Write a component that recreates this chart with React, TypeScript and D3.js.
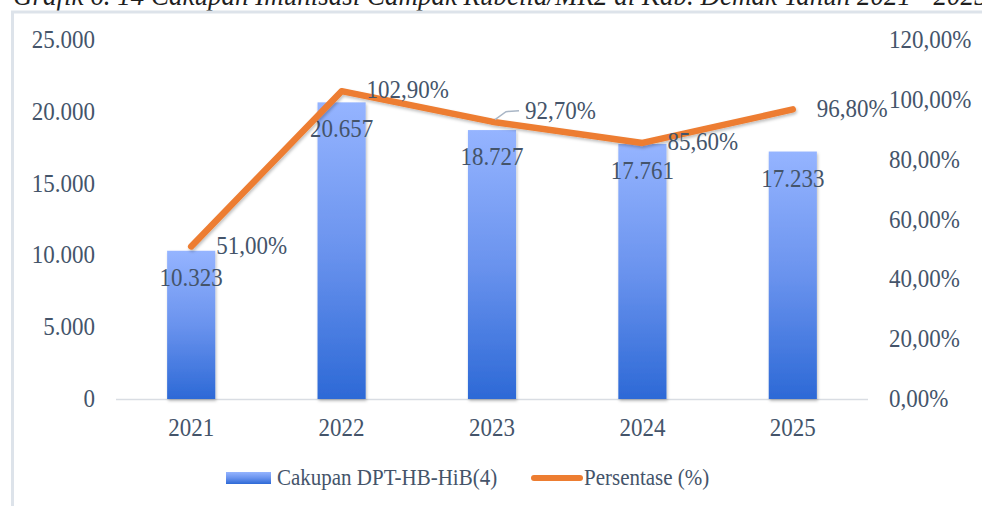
import React, { useEffect, useRef } from "react";
import * as d3 from "d3";

const years = ["2021", "2022", "2023", "2024", "2025"];
const cakupan = [10323, 20657, 18727, 17761, 17233];
const persen = [51.0, 102.9, 92.7, 85.6, 96.8];
const leftTicks = [0, 5000, 10000, 15000, 20000, 25000];
const rightTicks = [0, 20, 40, 60, 80, 100, 120];

const title = "Grafik 6. 14 Cakupan Imunisasi Campak Rubella/MR2 di Kab. Demak Tahun 2021 - 2025";
const barName = "Cakupan DPT-HB-HiB(4)";
const lineName = "Persentase (%)";

const W = 982, H = 506;
const font = "'Liberation Serif', 'Times New Roman', serif";
const textColor = "#44546a";
const stretch = 1.1; // text in the picture is a bit taller than wide

const fmtNum = (v: number) => d3.format(",")(v).replace(/,/g, ".");
const fmtPct = (v: number) => v.toFixed(2).replace(".", ",") + "%";
const at = (x: number, y: number) => `translate(${x},${y}) scale(1,${stretch})`;

export default function App() {
  const ref = useRef<SVGSVGElement>(null);

  useEffect(() => {
    const svg = d3.select(ref.current);
    svg.selectAll("*").remove();

    const plot = { left: 116, right: 868, top: 40, bottom: 399 };

    const x = d3.scaleBand().domain(years).range([plot.left, plot.right]).paddingInner(0.68).paddingOuter(0.34);
    const yL = d3.scaleLinear().domain([0, 25000]).range([plot.bottom, plot.top]);
    const yR = d3.scaleLinear().domain([0, 120]).range([plot.bottom, plot.top]);
    const cx = (d: string) => (x(d) as number) + x.bandwidth() / 2;

    const defs = svg.append("defs");
    const grad = defs.append("linearGradient").attr("id", "barGrad").attr("x1", 0).attr("y1", 0).attr("x2", 0).attr("y2", 1);
    grad.append("stop").attr("offset", "0%").attr("stop-color", "#95b4ff");
    grad.append("stop").attr("offset", "50%").attr("stop-color", "#6a93ee");
    grad.append("stop").attr("offset", "100%").attr("stop-color", "#2d69d6");

    const shadow = defs.append("filter").attr("id", "shadow").attr("x", "-20%").attr("y", "-20%").attr("width", "140%").attr("height", "140%");
    shadow.append("feDropShadow").attr("dx", 1).attr("dy", 2).attr("stdDeviation", 1.5).attr("flood-color", "#000").attr("flood-opacity", 0.25);

    // title (cut off at top, as in the source)
    svg.append("text").attr("transform", at(13, 5)).attr("font-family", font).attr("font-style", "italic")
      .attr("font-size", 27).attr("fill", "#1f1f1f").text(title);

    // frame
    svg.append("rect").attr("x", 12.5).attr("y", 12).attr("width", W + 20).attr("height", H + 20)
      .attr("fill", "none").attr("stroke", "#dde3ea").attr("stroke-width", 3);

    // baseline
    svg.append("line").attr("x1", plot.left).attr("x2", plot.right).attr("y1", plot.bottom + 0.5).attr("y2", plot.bottom + 0.5)
      .attr("stroke", "#d9dde3").attr("stroke-width", 1.5);

    const txt = (g: any) => g.attr("font-family", font).attr("font-size", 23).attr("fill", textColor);

    // left axis
    svg.append("g").selectAll("text").data(leftTicks).join("text")
      .attr("transform", d => at(95, yL(d) + 8)).attr("text-anchor", "end")
      .call(txt).text(d => fmtNum(d));

    // right axis
    svg.append("g").selectAll("text").data(rightTicks).join("text")
      .attr("transform", d => at(889, yR(d) + 8)).attr("text-anchor", "start")
      .call(txt).text(d => fmtPct(d));

    // x labels
    svg.append("g").selectAll("text").data(years).join("text")
      .attr("transform", d => at(cx(d), 436)).attr("text-anchor", "middle")
      .call(txt).text(d => d);

    // bars
    svg.append("g").selectAll("rect").data(cakupan).join("rect")
      .attr("x", (d, i) => x(years[i]) as number).attr("width", x.bandwidth())
      .attr("y", d => yL(d)).attr("height", d => plot.bottom - yL(d))
      .attr("fill", "url(#barGrad)").attr("filter", "url(#shadow)");

    // bar labels
    svg.append("g").selectAll("text").data(cakupan).join("text")
      .attr("transform", (d, i) => at(cx(years[i]), yL(d) + 35)).attr("text-anchor", "middle")
      .call(txt).text(d => fmtNum(d));

    // line
    const line = d3.line<number>().x((d, i) => cx(years[i])).y(d => yR(d));
    svg.append("path").datum(persen).attr("d", line).attr("fill", "none")
      .attr("stroke", "#ed7d31").attr("stroke-width", 6.5).attr("stroke-linecap", "round").attr("stroke-linejoin", "round")
      .attr("filter", "url(#shadow)");

    // leader line for 2023 label
    const lx = cx(years[2]), ly = yR(persen[2]);
    svg.append("path").attr("d", `M${lx + 3},${ly - 2}L${lx + 14},${ly - 10}L${lx + 27},${ly - 11}`)
      .attr("fill", "none").attr("stroke", "#a9b6c6").attr("stroke-width", 1.5);

    // line labels
    const offs = [[25, 8], [25, 7], [33, -3], [25, 7], [24, 8]];
    svg.append("g").selectAll("text").data(persen).join("text")
      .attr("transform", (d, i) => at(cx(years[i]) + offs[i][0], yR(d) + offs[i][1]))
      .call(txt).text(d => fmtPct(d));

    // legend
    const lg = svg.append("g");
    lg.append("rect").attr("x", 226).attr("y", 472).attr("width", 45).attr("height", 12).attr("fill", "url(#barGrad)");
    lg.append("text").attr("transform", at(277, 485)).attr("font-family", font).attr("font-size", 21).attr("fill", textColor).text(barName);
    lg.append("line").attr("x1", 534).attr("x2", 580).attr("y1", 478).attr("y2", 478)
      .attr("stroke", "#ed7d31").attr("stroke-width", 6).attr("stroke-linecap", "round");
    lg.append("text").attr("transform", at(584, 485)).attr("font-family", font).attr("font-size", 21).attr("fill", textColor).text(lineName);
  }, []);

  return (
    <svg ref={ref} width={W} height={H} style={{ position: "absolute", left: 0, top: 0, background: "#fff" }} />
  );
}
